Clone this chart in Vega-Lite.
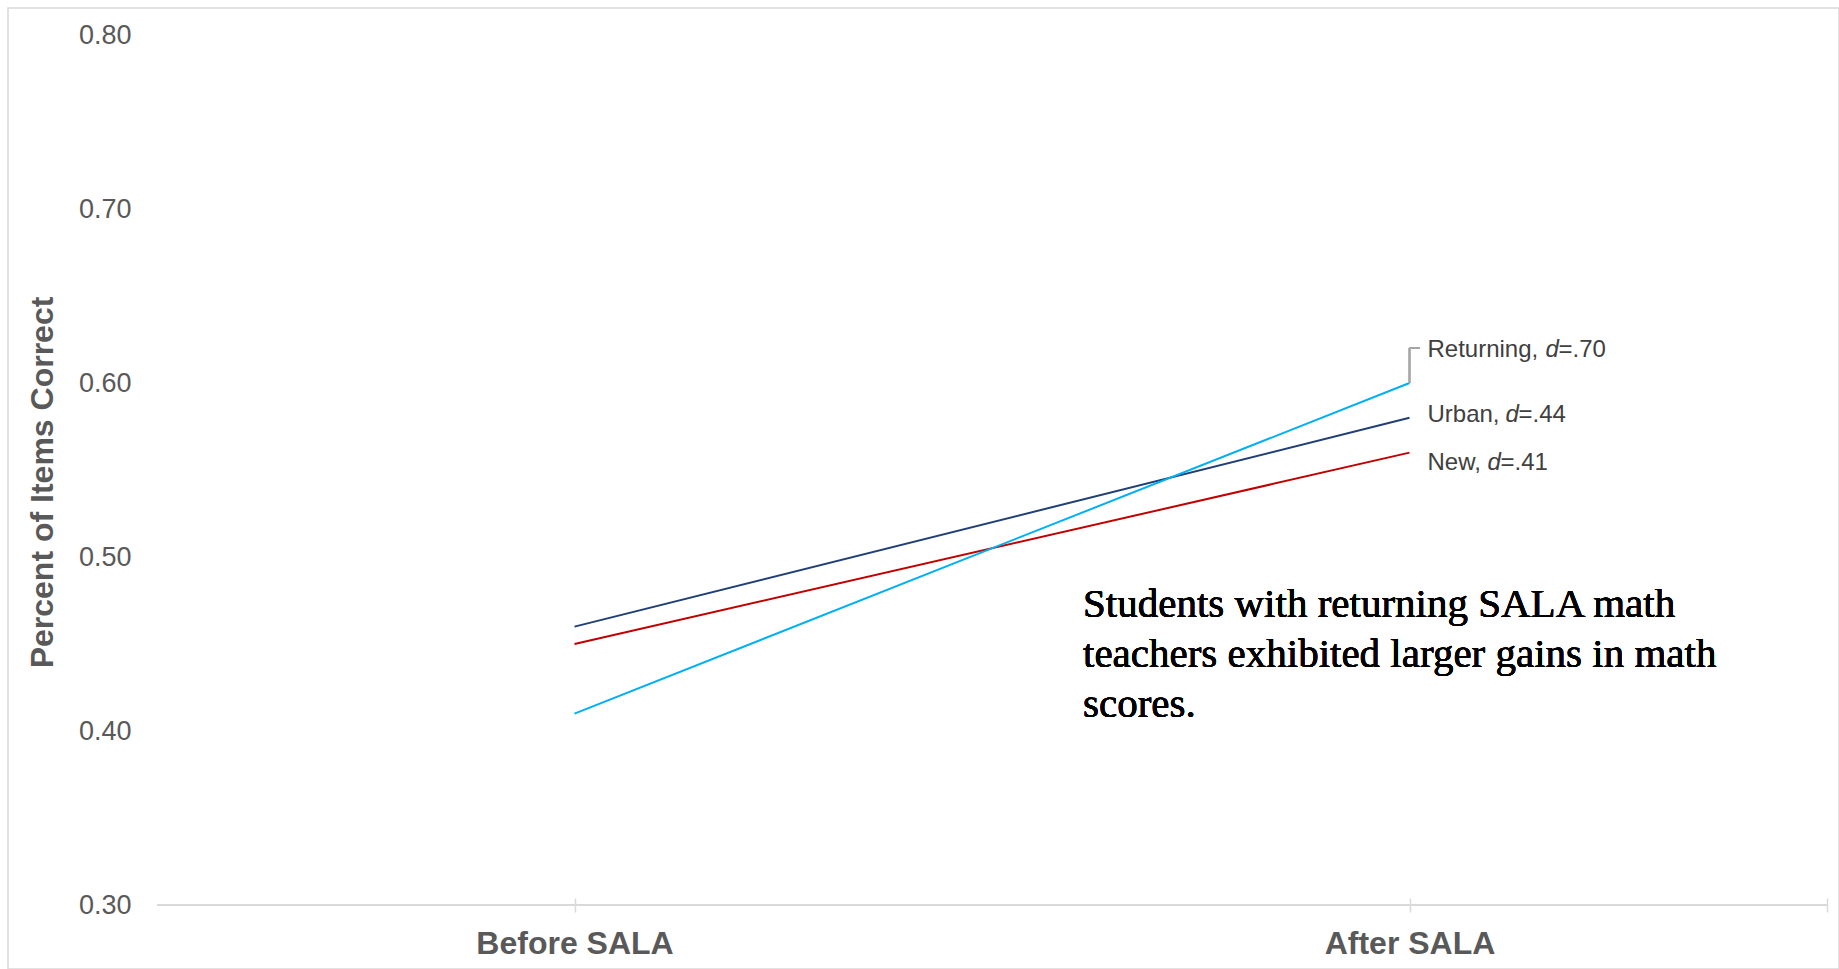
{
  "$schema": "https://vega.github.io/schema/vega-lite/v6.json",
  "width": 1831,
  "height": 961,
  "autosize": {"type": "none"},
  "padding": {"left": 8, "top": 8, "right": 0, "bottom": 0},
  "background": "white",
  "config": {
    "font": "Liberation Sans",
    "view": {"stroke": "#D9D9D9", "strokeWidth": 1.5}
  },
  "datasets": {
    "scores": [
      {"group": "Urban", "phase": "Before SALA", "t": 1, "pct": 0.46, "name": "Urban,", "effect": "=.44"},
      {"group": "Urban", "phase": "After SALA", "t": 2, "pct": 0.58, "name": "Urban,", "effect": "=.44"},
      {"group": "New", "phase": "Before SALA", "t": 1, "pct": 0.45, "name": "New,", "effect": "=.41"},
      {"group": "New", "phase": "After SALA", "t": 2, "pct": 0.56, "name": "New,", "effect": "=.41"},
      {"group": "Returning", "phase": "Before SALA", "t": 1, "pct": 0.41, "name": "Returning,", "effect": "=.70"},
      {"group": "Returning", "phase": "After SALA", "t": 2, "pct": 0.60, "name": "Returning,", "effect": "=.70"}
    ]
  },
  "data": {"name": "scores"},
  "layer": [
    {
      "mark": {"type": "rule", "color": "#D9D9D9", "strokeWidth": 1.5},
      "encoding": {
        "x": {"datum": 0.5},
        "x2": {"datum": 2.5},
        "y": {"datum": 0.3}
      }
    },
    {
      "mark": {"type": "line", "strokeWidth": 2},
      "encoding": {
        "x": {
          "field": "t",
          "type": "quantitative",
          "scale": {"domain": [0.5, 2.5], "range": [149, 1819], "nice": false, "zero": false},
          "axis": {
            "title": null,
            "values": [1, 2, 2.5],
            "labelExpr": "datum.value == 1 ? 'Before SALA' : datum.value == 2 ? 'After SALA' : ''",
            "domain": false,
            "grid": false,
            "ticks": true,
            "tickSize": 14,
            "tickColor": "#D9D9D9",
            "tickWidth": 1.5,
            "offset": -71,
            "labelPadding": 16,
            "labelFontSize": 32,
            "labelFontWeight": "bold",
            "labelColor": "#595959",
            "labelFont": "Liberation Sans",
            "labelLimit": 600,
            "labelOverlap": false,
            "labelFlush": false
          }
        },
        "y": {
          "field": "pct",
          "type": "quantitative",
          "scale": {"domain": [0.3, 0.8], "range": [897, 27], "nice": false, "zero": false},
          "axis": {
            "title": "Percent of Items Correct",
            "values": [0.3, 0.4, 0.5, 0.6, 0.7, 0.8],
            "format": ".2f",
            "domain": false,
            "grid": false,
            "ticks": false,
            "offset": -123,
            "labelPadding": 0,
            "labelFontSize": 27,
            "labelColor": "#595959",
            "labelFont": "Liberation Sans",
            "titleFont": "Liberation Sans",
            "titleFontSize": 32,
            "titleFontWeight": "bold",
            "titleColor": "#595959",
            "titleX": -89,
            "titleY": 474,
            "titleAngle": -90,
            "titleAlign": "center",
            "titleBaseline": "middle",
            "titleLimit": 800
          }
        },
        "color": {
          "field": "group",
          "type": "nominal",
          "scale": {"domain": ["Urban", "New", "Returning"], "range": ["#203F74", "#C00000", "#00B0F0"]},
          "legend": null
        },
        "detail": {"field": "group"}
      }
    },
    {
      "mark": {"type": "rule", "color": "#A6A6A6", "strokeWidth": 1.5},
      "encoding": {
        "x": {"datum": 2},
        "y": {"datum": 0.6},
        "y2": {"datum": 0.6201}
      }
    },
    {
      "mark": {"type": "rule", "color": "#A6A6A6", "strokeWidth": 1.5},
      "encoding": {
        "x": {"datum": 2},
        "x2": {"datum": 2.0126},
        "y": {"datum": 0.6201}
      }
    },
    {
      "transform": [{"filter": "datum.t == 2 && datum.group == 'Returning'"}],
      "layer": [
        {"mark": {"type": "text", "align": "left", "baseline": "alphabetic", "dx": 18, "dy": -26, "fontSize": 24, "color": "#404040"},
         "encoding": {"x": {"field": "t", "type": "quantitative"}, "y": {"field": "pct", "type": "quantitative"}, "text": {"field": "name"}}},
        {"mark": {"type": "text", "align": "left", "baseline": "alphabetic", "dx": 136, "dy": -26, "fontSize": 24, "fontStyle": "italic", "color": "#404040", "text": "d"},
         "encoding": {"x": {"field": "t", "type": "quantitative"}, "y": {"field": "pct", "type": "quantitative"}}},
        {"mark": {"type": "text", "align": "left", "baseline": "alphabetic", "dx": 149, "dy": -26, "fontSize": 24, "color": "#404040"},
         "encoding": {"x": {"field": "t", "type": "quantitative"}, "y": {"field": "pct", "type": "quantitative"}, "text": {"field": "effect"}}}
      ]
    },
    {
      "transform": [{"filter": "datum.t == 2 && datum.group == 'Urban'"}],
      "layer": [
        {"mark": {"type": "text", "align": "left", "baseline": "alphabetic", "dx": 18, "dy": 4, "fontSize": 24, "color": "#404040"},
         "encoding": {"x": {"field": "t", "type": "quantitative"}, "y": {"field": "pct", "type": "quantitative"}, "text": {"field": "name"}}},
        {"mark": {"type": "text", "align": "left", "baseline": "alphabetic", "dx": 96, "dy": 4, "fontSize": 24, "fontStyle": "italic", "color": "#404040", "text": "d"},
         "encoding": {"x": {"field": "t", "type": "quantitative"}, "y": {"field": "pct", "type": "quantitative"}}},
        {"mark": {"type": "text", "align": "left", "baseline": "alphabetic", "dx": 109, "dy": 4, "fontSize": 24, "color": "#404040"},
         "encoding": {"x": {"field": "t", "type": "quantitative"}, "y": {"field": "pct", "type": "quantitative"}, "text": {"field": "effect"}}}
      ]
    },
    {
      "transform": [{"filter": "datum.t == 2 && datum.group == 'New'"}],
      "layer": [
        {"mark": {"type": "text", "align": "left", "baseline": "alphabetic", "dx": 18, "dy": 17, "fontSize": 24, "color": "#404040"},
         "encoding": {"x": {"field": "t", "type": "quantitative"}, "y": {"field": "pct", "type": "quantitative"}, "text": {"field": "name"}}},
        {"mark": {"type": "text", "align": "left", "baseline": "alphabetic", "dx": 78, "dy": 17, "fontSize": 24, "fontStyle": "italic", "color": "#404040", "text": "d"},
         "encoding": {"x": {"field": "t", "type": "quantitative"}, "y": {"field": "pct", "type": "quantitative"}}},
        {"mark": {"type": "text", "align": "left", "baseline": "alphabetic", "dx": 91, "dy": 17, "fontSize": 24, "color": "#404040"},
         "encoding": {"x": {"field": "t", "type": "quantitative"}, "y": {"field": "pct", "type": "quantitative"}, "text": {"field": "effect"}}}
      ]
    },
    {
      "mark": {
        "type": "text",
        "align": "left",
        "baseline": "alphabetic",
        "font": "Liberation Serif",
        "fontSize": 41,
        "fontWeight": "normal",
        "lineHeight": 50,
        "color": "#000000",
        "text": ["Students with returning SALA math", "teachers exhibited larger gains in math", "scores."]
      },
      "encoding": {
        "x": {"datum": 1.609},
        "y": {"datum": 0.4655}
      }
    }
  ]
}
